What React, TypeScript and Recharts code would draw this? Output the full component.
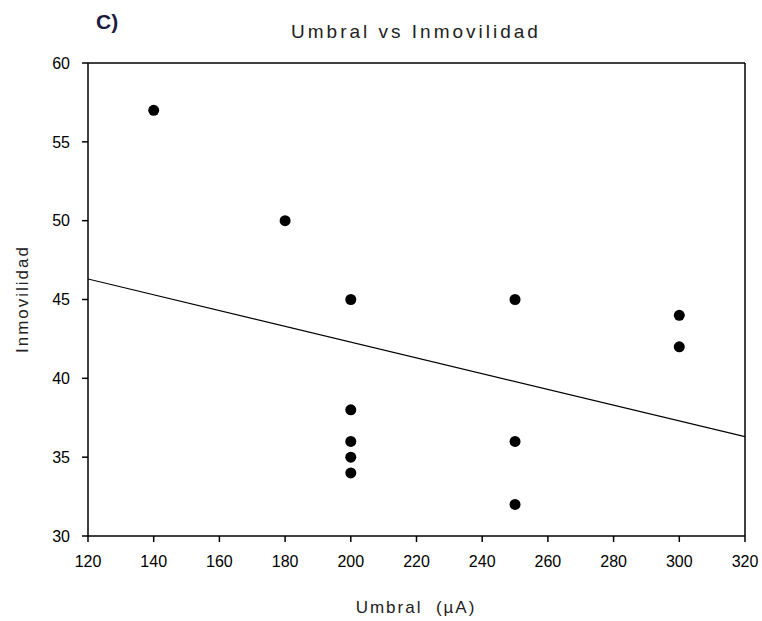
import React from 'react';
import { ComposedChart, Scatter, XAxis, YAxis, ReferenceLine } from 'recharts';

const umbral = [140, 180, 200, 200, 200, 200, 200, 250, 250, 250, 300, 300];
const inmovilidad = [57, 50, 45, 38, 36, 35, 34, 45, 36, 32, 44, 42];

// regression line endpoints
const fitX = [120, 320];
const fitY = [46.3, 36.3];

const xTicks = [120, 140, 160, 180, 200, 220, 240, 260, 280, 300, 320];
const yTicks = [30, 35, 40, 45, 50, 55, 60];

const points = umbral.map((x, i) => ({ x, y: inmovilidad[i] }));
const fitLine = fitX.map((x, i) => ({ x, y: fitY[i] }));

const FONT = '"Liberation Sans", Arial, sans-serif';

const Dot = (props: any) => (
  <circle cx={props.cx} cy={props.cy} r={5.5} fill="#000" />
);

export default function App() {
  return (
    <div style={{ position: 'absolute', left: 0, top: 0, width: 762, height: 621, background: '#fff' }}>
      <ComposedChart
        width={762}
        height={621}
        margin={{ top: 63, right: 17, bottom: 0, left: 0 }}
        style={{ fontFamily: FONT }}
      >
        <text x={96} y={29} fontFamily={FONT} fontWeight="bold" fontSize={21} fill="#1c1c40">C)</text>
        <text x={416} y={38} textAnchor="middle" fontFamily={FONT} fontSize={19} letterSpacing={3} fill="#222">
          Umbral vs Inmovilidad
        </text>
        <text x={416} y={613} textAnchor="middle" fontFamily={FONT} fontSize={17} letterSpacing={2} fill="#222">
          {'Umbral\u00a0\u00a0(µA)'}
        </text>
        <text
          x={0}
          y={0}
          transform="translate(28,299) rotate(-90)"
          textAnchor="middle"
          fontFamily={FONT}
          fontSize={17}
          letterSpacing={2}
          fill="#222"
        >
          Inmovilidad
        </text>
        <XAxis
          type="number"
          dataKey="x"
          domain={[120, 320]}
          ticks={xTicks}
          interval={0}
          height={85}
          stroke="#000"
          strokeWidth={1.5}
          tickSize={6}
          tickMargin={14}
          tick={{ fill: '#000', fontSize: 16, fontFamily: FONT }}
          allowDataOverflow
        />
        <YAxis
          type="number"
          dataKey="y"
          domain={[30, 60]}
          ticks={yTicks}
          interval={0}
          width={88}
          stroke="#000"
          strokeWidth={1.5}
          tickSize={6}
          tickMargin={12}
          tick={{ fill: '#000', fontSize: 16, fontFamily: FONT }}
          allowDataOverflow
        />
        <ReferenceLine y={60} stroke="#000" strokeWidth={1.5} />
        <ReferenceLine x={320} stroke="#000" strokeWidth={1.5} />
        <Scatter
          data={fitLine}
          line={{ stroke: '#000', strokeWidth: 1.2 }}
          shape={() => <g />}
          isAnimationActive={false}
        />
        <Scatter data={points} shape={<Dot />} isAnimationActive={false} />
      </ComposedChart>
    </div>
  );
}
